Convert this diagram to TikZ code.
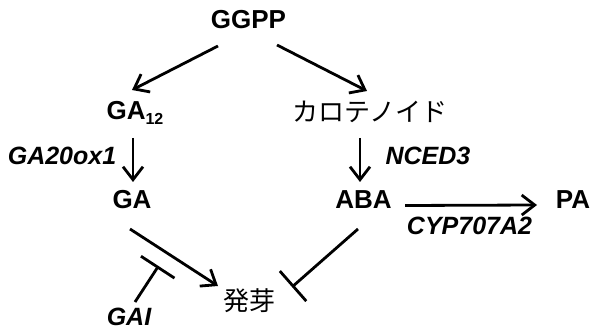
\documentclass[tikz,border=0pt]{standalone}
\usepackage{fontspec}
\setmainfont{Liberation Sans}
\newfontfamily\jpfont{Noto Sans CJK JP}
\usetikzlibrary{arrows.meta}
\tikzset{
  lbl/.style={inner sep=0pt, font=\fontsize{26}{26}\selectfont\bfseries, text height=0.716em, text depth=0pt},
  gene/.style={lbl, font=\fontsize{25}{25}\selectfont\bfseries\itshape},
  jp/.style={inner sep=0pt, font=\fontsize{26}{26}\selectfont\jpfont, text height=0.76em, text depth=0pt},
  conn/.style={line width=2.8pt},
  act/.style={conn, -{Straight Barb[length=13pt,width=20pt]}},
  inh/.style={conn, -{Bar[width=40pt]}},
}
\begin{document}
\begin{tikzpicture}[x=1pt,y=-1pt]
\useasboundingbox (0,0) rectangle (591,331);
\node[lbl] (ggpp) at (248.5,24.5) {GGPP};
\node[lbl] (ga12) at (135,115.5) {GA\raisebox{-5pt}{\fontsize{16}{16}\selectfont 12}};
\node[jp] (carot) at (370,118) {カロテノイド};
\node[gene] (ga20) at (62,161) {GA20ox1};
\node[gene] (nced) at (428,161) {NCED3};
\node[lbl] (ga) at (132,205) {GA};
\node[lbl] (aba) at (363.5,204.5) {ABA};
\node[lbl] (pa) at (573,205) {PA};
\node[gene] (cyp) at (469.5,231) {CYP707A2};
\node[gene] (gai) at (129,322) {GAI};
\node[jp] (hatsuga) at (249,307) {発芽};
\coordinate (gaiend) at (158.5,266);

\draw[act] ([shift={(-30.5,21.5)}]ggpp.center) -- ([shift={(-3,-25.5)}]ga12.center);
\draw[act] ([shift={(28.5,20.5)}]ggpp.center) -- ([shift={(-3,-27)}]carot.center);
\draw[act] ([shift={(-2,22.5)}]ga12.center) -- ([shift={(1,-23)}]ga.center);
\draw[act] ([shift={(-10,20)}]carot.center) -- ([shift={(-3.5,-22.5)}]aba.center);
\draw[act] ([shift={(41.5,1)}]aba.center) -- ([shift={(-36,0)}]pa.center);
\draw[act] ([shift={(-2,24)}]ga.center) -- ([shift={(-31,-21)}]hatsuga.center);
\draw[inh] ([shift={(6,-20)}]gai.center) -- (gaiend);
\draw[inh] ([shift={(-5.5,24.5)}]aba.center) -- ([shift={(43,-20)}]hatsuga.center);
\end{tikzpicture}
\end{document}
